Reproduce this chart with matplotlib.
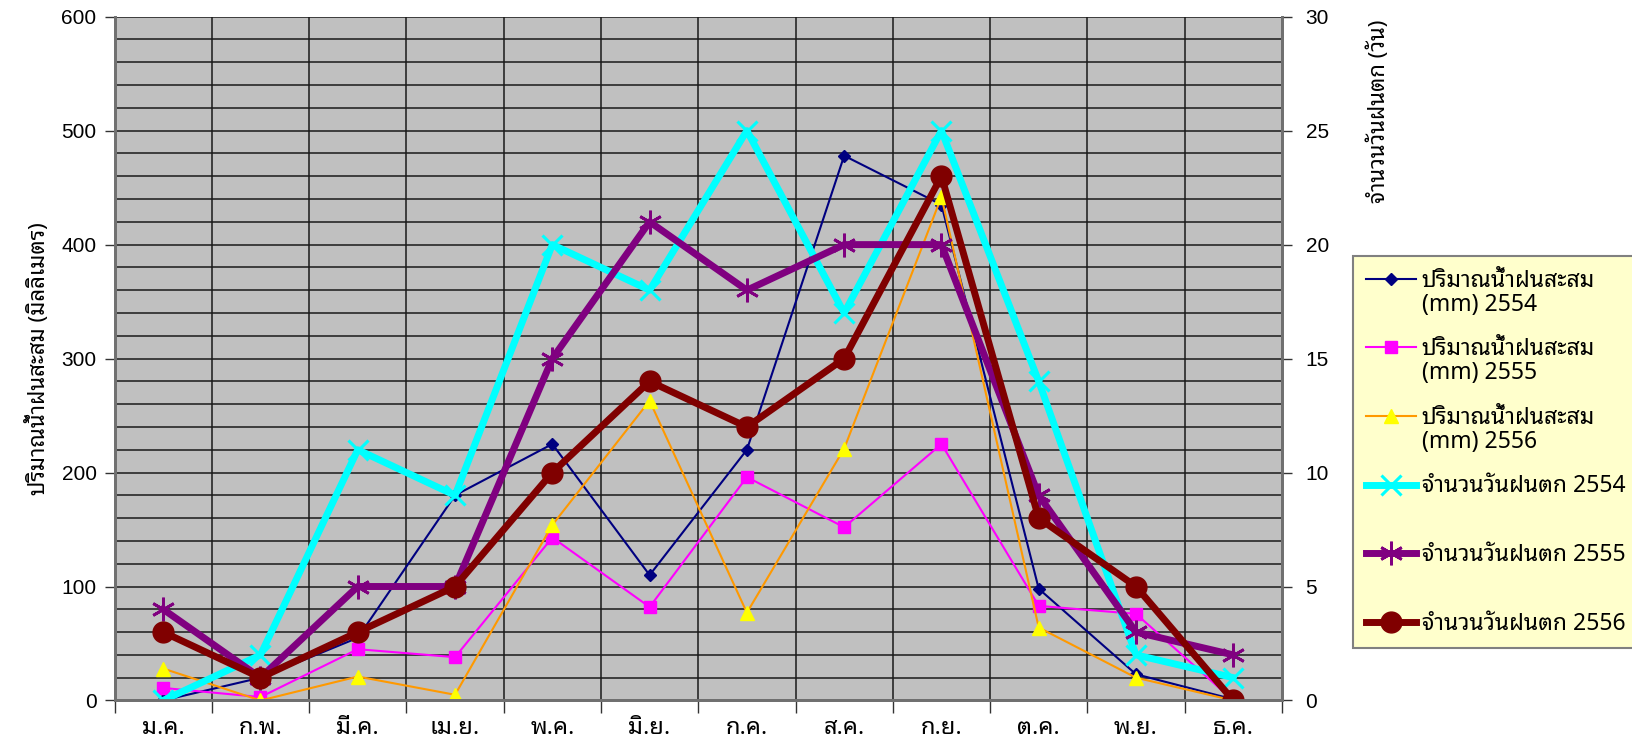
import matplotlib
matplotlib.use("Agg")
import numpy as np
import matplotlib.pyplot as plt
from matplotlib.ticker import MultipleLocator, FixedLocator
from matplotlib.legend_handler import HandlerLine2D

plt.rcParams['font.family'] = ['Liberation Sans', 'Noto Sans Thai Looped', 'DejaVu Sans']
THAI = ['Noto Sans Thai Looped', 'Liberation Sans', 'DejaVu Sans']

months = ['ม.ค.', 'ก.พ.', 'มี.ค.', 'เม.ย.', 'พ.ค.', 'มิ.ย.',
          'ก.ค.', 'ส.ค.', 'ก.ย.', 'ต.ค.', 'พ.ย.', 'ธ.ค.']

# ปริมาณน้ำฝนสะสม (mm)
rain_2554 = [0, 20, 55, 180, 225, 110, 220, 478, 435, 98, 23, 1]
rain_2555 = [11, 3, 45, 38, 143, 82, 196, 152, 225, 83, 76, 0]
rain_2556 = [28, 0, 21, 5, 154, 263, 77, 221, 442, 64, 20, 0]

# จำนวนวันฝนตก (วัน)
days_2554 = [0, 2, 11, 9, 20, 18, 25, 17, 25, 14, 2, 1]
days_2555 = [4, 1, 5, 5, 15, 21, 18, 20, 20, 9, 3, 2]
days_2556 = [3, 1, 3, 5, 10, 14, 12, 15, 23, 8, 5, 0]

x = np.arange(len(months))

fig = plt.figure(figsize=(16.32, 7.44), dpi=100)
ax = fig.add_axes([0.0702, 0.0585, 0.7153, 0.9191])
ax2 = ax.twinx()

ax.set_facecolor('#C0C0C0')
ax.set_axisbelow(True)

l1, = ax.plot(x, rain_2554, color='#000080', lw=1.5, marker='D', ms=6,
              mfc='#000080', mec='#000080', label='ปริมาณน้ำฝนสะสม\n(mm) 2554')
l2, = ax.plot(x, rain_2555, color='#FF00FF', lw=1.5, marker='s', ms=9,
              mfc='#FF00FF', mec='#FF00FF', label='ปริมาณน้ำฝนสะสม\n(mm) 2555')
l3, = ax.plot(x, rain_2556, color='#FF9900', lw=1.5, marker='^', ms=10,
              mfc='#FFFF00', mec='#FFFF00', label='ปริมาณน้ำฝนสะสม\n(mm) 2556')

l4, = ax2.plot(x, days_2554, color='#00FFFF', lw=5, marker='x', ms=15, mew=2.2,
               mec='#00FFFF', label='จำนวนวันฝนตก 2554\n ')
l5, = ax2.plot(x, days_2555, color='#800080', lw=5, marker=(6, 2, 0), ms=17, mew=2,
               mec='#800080', label='จำนวนวันฝนตก 2555\n ')
l6, = ax2.plot(x, days_2556, color='#800000', lw=5, marker='o', ms=15,
               mfc='#800000', mec='#800000', label='จำนวนวันฝนตก 2556')

ax.set_xlim(-0.5, len(months) - 0.5)
ax.set_ylim(0, 600)
ax2.set_ylim(0, 30)

ax.yaxis.set_major_locator(MultipleLocator(100))
ax.yaxis.set_minor_locator(MultipleLocator(20))
ax2.yaxis.set_major_locator(MultipleLocator(5))

ax.set_xticks(x)
ax.set_xticklabels(months, family=THAI, fontsize=17, fontweight='bold')
ax.xaxis.set_minor_locator(FixedLocator(np.arange(-0.5, len(months), 1.0)))

ax.grid(True, which='both', axis='y', color='#1a1a1a', lw=1.1)
ax.grid(True, which='minor', axis='x', color='#1a1a1a', lw=1.1)

ax.tick_params(axis='x', which='major', length=0, pad=11)
ax.tick_params(axis='x', which='minor', length=9, width=1, color='#333333')
ax.tick_params(axis='y', which='major', length=7, width=1, color='#333333',
               labelsize=15, pad=6)
ax.tick_params(axis='y', which='minor', length=0)
ax2.tick_params(axis='y', length=7, width=1, color='#333333', labelsize=15, pad=10)

for sp in ['left', 'right', 'bottom']:
    ax.spines[sp].set_color('#707070')
    ax.spines[sp].set_linewidth(2)
    ax2.spines[sp].set_color('#707070')
    ax2.spines[sp].set_linewidth(2)
ax.spines['top'].set_visible(False)
ax2.spines['top'].set_visible(False)

ax.set_ylabel('ปริมาณน้ำฝนสะสม (มิลลิเมตร)', family=THAI, fontsize=16,
              fontweight='bold', labelpad=8)
fig.text(1379 / 1632, 1 - 20 / 744, 'จำนวนวันฝนตก (วัน)', family=THAI,
         fontsize=16, fontweight='bold', rotation=90, va='top', ha='center')


class HandlerUp(HandlerLine2D):
    # keep the legend key beside the first line of a two-line label
    def create_artists(self, legend, orig_handle, xdescent, ydescent,
                       width, height, fontsize, trans):
        arts = super().create_artists(legend, orig_handle, xdescent, ydescent,
                                      width, height, fontsize, trans)
        for a in arts:
            a.set_ydata(np.asarray(a.get_ydata(), float) + 0.65 * fontsize)
        return arts


handles = [l1, l2, l3, l4, l5, l6]
hmap = {h: HandlerUp(numpoints=1) for h in handles[:-1]}
hmap[l6] = HandlerLine2D(numpoints=1)
leg = fig.legend(handles, [h.get_label() for h in handles],
                 loc='upper left', bbox_to_anchor=(1353 / 1632, 1 - 256 / 744),
                 borderaxespad=0, prop={'family': THAI, 'size': 16.5},
                 handlelength=2.2, handletextpad=0.25, labelspacing=0.9,
                 borderpad=0.55, fancybox=False, framealpha=1,
                 handler_map=hmap)
leg.get_frame().set_facecolor('#FFFFCC')
leg.get_frame().set_edgecolor('#808080')
leg.get_frame().set_linewidth(1.5)
for t in leg.get_texts():
    t.set_linespacing(1.0)

fig.savefig('out.png', dpi=100)
